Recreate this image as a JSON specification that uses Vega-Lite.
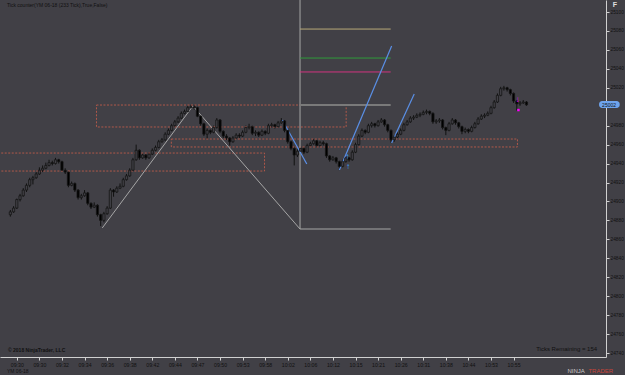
{
  "$schema": "https://vega.github.io/schema/vega-lite/v6.json",
  "width": 606,
  "height": 357,
  "autosize": {"type": "none"},
  "padding": {"left": 0, "top": 0, "right": 19, "bottom": 18},
  "background": "#414046",
  "config": {
    "view": {"stroke": null},
    "axis": {"labelOverlap": false, "labelFlush": false, "labelFont": "Liberation Sans", "grid": false, "domainColor": "#d0d0d0", "tickColor": "#d0d0d0", "tickSize": 3, "labelColor": "#111111", "title": null},
    "axisX": {"labelFontSize": 5.2, "labelPadding": 2},
    "axisY": {"labelFontSize": 4.8, "labelPadding": 1}
  },
  "datasets": {
    "bars": [
      {"i":0,"o":24886,"h":24891,"l":24884,"c":24889},{"i":1,"o":24889,"h":24895,"l":24888,"c":24893},{"i":2,"o":24893,"h":24903,"l":24892,"c":24902},{"i":3,"o":24902,"h":24908,"l":24900,"c":24906},{"i":4,"o":24906,"h":24914,"l":24905,"c":24912},{"i":5,"o":24912,"h":24919,"l":24910,"c":24917},{"i":6,"o":24917,"h":24925,"l":24915,"c":24923},{"i":7,"o":24923,"h":24927,"l":24918,"c":24925},{"i":8,"o":24925,"h":24931,"l":24924,"c":24929},{"i":9,"o":24929,"h":24936,"l":24928,"c":24933},
      {"i":10,"o":24933,"h":24938,"l":24931,"c":24935},{"i":11,"o":24935,"h":24941,"l":24934,"c":24938},{"i":12,"o":24938,"h":24944,"l":24937,"c":24941},{"i":13,"o":24941,"h":24943,"l":24938,"c":24940},{"i":14,"o":24940,"h":24946,"l":24939,"c":24944},{"i":15,"o":24944,"h":24945,"l":24940,"c":24942},{"i":16,"o":24942,"h":24943,"l":24932,"c":24933},{"i":17,"o":24933,"h":24935,"l":24929,"c":24931},{"i":18,"o":24931,"h":24932,"l":24915,"c":24917},{"i":19,"o":24917,"h":24921,"l":24916,"c":24919},
      {"i":20,"o":24919,"h":24920,"l":24910,"c":24912},{"i":21,"o":24912,"h":24913,"l":24902,"c":24904},{"i":22,"o":24904,"h":24908,"l":24902,"c":24906},{"i":23,"o":24906,"h":24912,"l":24905,"c":24909},{"i":24,"o":24909,"h":24910,"l":24896,"c":24898},{"i":25,"o":24898,"h":24899,"l":24892,"c":24894},{"i":26,"o":24894,"h":24899,"l":24893,"c":24896},{"i":27,"o":24896,"h":24897,"l":24884,"c":24886},{"i":28,"o":24886,"h":24887,"l":24874,"c":24880},{"i":29,"o":24880,"h":24889,"l":24878,"c":24887},
      {"i":30,"o":24887,"h":24895,"l":24886,"c":24893},{"i":31,"o":24893,"h":24914,"l":24892,"c":24912},{"i":32,"o":24912,"h":24913,"l":24905,"c":24910},{"i":33,"o":24910,"h":24916,"l":24909,"c":24914},{"i":34,"o":24914,"h":24919,"l":24913,"c":24916},{"i":35,"o":24916,"h":24925,"l":24915,"c":24923},{"i":36,"o":24923,"h":24929,"l":24922,"c":24927},{"i":37,"o":24927,"h":24935,"l":24926,"c":24933},{"i":38,"o":24933,"h":24946,"l":24932,"c":24944},{"i":39,"o":24944,"h":24960,"l":24943,"c":24954},
      {"i":40,"o":24954,"h":24955,"l":24944,"c":24946},{"i":41,"o":24946,"h":24951,"l":24945,"c":24949},{"i":42,"o":24949,"h":24950,"l":24944,"c":24946},{"i":43,"o":24946,"h":24952,"l":24945,"c":24950},{"i":44,"o":24950,"h":24956,"l":24949,"c":24954},{"i":45,"o":24954,"h":24959,"l":24953,"c":24957},{"i":46,"o":24957,"h":24965,"l":24956,"c":24963},{"i":47,"o":24963,"h":24967,"l":24962,"c":24965},{"i":48,"o":24965,"h":24973,"l":24964,"c":24971},{"i":49,"o":24971,"h":24977,"l":24970,"c":24975},
      {"i":50,"o":24975,"h":24982,"l":24974,"c":24980},{"i":51,"o":24980,"h":24986,"l":24979,"c":24984},{"i":52,"o":24984,"h":24990,"l":24983,"c":24988},{"i":53,"o":24988,"h":24995,"l":24987,"c":24993},{"i":54,"o":24993,"h":24997,"l":24992,"c":24995},{"i":55,"o":24995,"h":25001,"l":24994,"c":24999},{"i":56,"o":24999,"h":25002,"l":24998,"c":25000},{"i":57,"o":25000,"h":25002,"l":24997,"c":24999},{"i":58,"o":24999,"h":25000,"l":24989,"c":24990},{"i":59,"o":24990,"h":24991,"l":24980,"c":24982},
      {"i":60,"o":24982,"h":24983,"l":24969,"c":24971},{"i":61,"o":24971,"h":24977,"l":24966,"c":24975},{"i":62,"o":24975,"h":24976,"l":24971,"c":24973},{"i":63,"o":24973,"h":24980,"l":24972,"c":24978},{"i":64,"o":24978,"h":24988,"l":24977,"c":24986},{"i":65,"o":24986,"h":24987,"l":24972,"c":24974},{"i":66,"o":24974,"h":24975,"l":24967,"c":24969},{"i":67,"o":24969,"h":24971,"l":24965,"c":24967},{"i":68,"o":24967,"h":24968,"l":24959,"c":24963},{"i":69,"o":24963,"h":24969,"l":24962,"c":24967},
      {"i":70,"o":24967,"h":24972,"l":24966,"c":24970},{"i":71,"o":24970,"h":24972,"l":24967,"c":24969},{"i":72,"o":24969,"h":24975,"l":24968,"c":24973},{"i":73,"o":24973,"h":24980,"l":24972,"c":24978},{"i":74,"o":24978,"h":24982,"l":24976,"c":24979},{"i":75,"o":24979,"h":24980,"l":24970,"c":24972},{"i":76,"o":24972,"h":24975,"l":24969,"c":24973},{"i":77,"o":24973,"h":24974,"l":24968,"c":24970},{"i":78,"o":24970,"h":24976,"l":24969,"c":24974},{"i":79,"o":24974,"h":24975,"l":24970,"c":24972},
      {"i":80,"o":24972,"h":24982,"l":24971,"c":24980},{"i":81,"o":24980,"h":24983,"l":24978,"c":24981},{"i":82,"o":24981,"h":24982,"l":24977,"c":24979},{"i":83,"o":24979,"h":24985,"l":24978,"c":24983},{"i":84,"o":24983,"h":24988,"l":24982,"c":24985},{"i":85,"o":24985,"h":24986,"l":24973,"c":24975},{"i":86,"o":24975,"h":24976,"l":24961,"c":24963},{"i":87,"o":24963,"h":24964,"l":24954,"c":24956},{"i":88,"o":24956,"h":24957,"l":24938,"c":24949},{"i":89,"o":24949,"h":24955,"l":24947,"c":24953},
      {"i":90,"o":24953,"h":24958,"l":24952,"c":24956},{"i":91,"o":24956,"h":24957,"l":24950,"c":24952},{"i":92,"o":24952,"h":24961,"l":24951,"c":24959},{"i":93,"o":24959,"h":24963,"l":24958,"c":24961},{"i":94,"o":24961,"h":24966,"l":24960,"c":24964},{"i":95,"o":24964,"h":24965,"l":24957,"c":24959},{"i":96,"o":24959,"h":24964,"l":24958,"c":24962},{"i":97,"o":24962,"h":24964,"l":24959,"c":24961},{"i":98,"o":24961,"h":24962,"l":24946,"c":24948},{"i":99,"o":24948,"h":24949,"l":24942,"c":24944},
      {"i":100,"o":24944,"h":24948,"l":24943,"c":24946},{"i":101,"o":24946,"h":24947,"l":24940,"c":24942},{"i":102,"o":24942,"h":24943,"l":24933,"c":24937},{"i":103,"o":24937,"h":24944,"l":24936,"c":24942},{"i":104,"o":24942,"h":24948,"l":24941,"c":24946},{"i":105,"o":24946,"h":24947,"l":24942,"c":24944},{"i":106,"o":24944,"h":24954,"l":24943,"c":24952},{"i":107,"o":24952,"h":24962,"l":24951,"c":24960},{"i":108,"o":24960,"h":24971,"l":24959,"c":24969},{"i":109,"o":24969,"h":24977,"l":24968,"c":24975},
      {"i":110,"o":24975,"h":24976,"l":24971,"c":24973},{"i":111,"o":24973,"h":24982,"l":24972,"c":24980},{"i":112,"o":24980,"h":24984,"l":24978,"c":24982},{"i":113,"o":24982,"h":24983,"l":24978,"c":24980},{"i":114,"o":24980,"h":24986,"l":24979,"c":24984},{"i":115,"o":24984,"h":24988,"l":24983,"c":24986},{"i":116,"o":24986,"h":24987,"l":24979,"c":24981},{"i":117,"o":24981,"h":24982,"l":24973,"c":24975},{"i":118,"o":24975,"h":24976,"l":24962,"c":24965},{"i":119,"o":24965,"h":24970,"l":24963,"c":24968},
      {"i":120,"o":24968,"h":24973,"l":24967,"c":24971},{"i":121,"o":24971,"h":24977,"l":24970,"c":24975},{"i":122,"o":24975,"h":24983,"l":24974,"c":24981},{"i":123,"o":24981,"h":24986,"l":24980,"c":24984},{"i":124,"o":24984,"h":24990,"l":24983,"c":24988},{"i":125,"o":24988,"h":24991,"l":24986,"c":24989},{"i":126,"o":24989,"h":24993,"l":24988,"c":24991},{"i":127,"o":24991,"h":24994,"l":24989,"c":24992},{"i":128,"o":24992,"h":24996,"l":24991,"c":24994},{"i":129,"o":24994,"h":24997,"l":24992,"c":24995},
      {"i":130,"o":24995,"h":24996,"l":24991,"c":24993},{"i":131,"o":24993,"h":24994,"l":24982,"c":24984},{"i":132,"o":24984,"h":24987,"l":24982,"c":24985},{"i":133,"o":24985,"h":24988,"l":24983,"c":24986},{"i":134,"o":24986,"h":24987,"l":24976,"c":24978},{"i":135,"o":24978,"h":24979,"l":24970,"c":24975},{"i":136,"o":24975,"h":24984,"l":24974,"c":24982},{"i":137,"o":24982,"h":24988,"l":24981,"c":24986},{"i":138,"o":24986,"h":24987,"l":24981,"c":24983},{"i":139,"o":24983,"h":24984,"l":24977,"c":24979},
      {"i":140,"o":24979,"h":24980,"l":24971,"c":24974},{"i":141,"o":24974,"h":24978,"l":24972,"c":24976},{"i":142,"o":24976,"h":24977,"l":24972,"c":24974},{"i":143,"o":24974,"h":24980,"l":24973,"c":24978},{"i":144,"o":24978,"h":24984,"l":24977,"c":24982},{"i":145,"o":24982,"h":24989,"l":24981,"c":24987},{"i":146,"o":24987,"h":24992,"l":24986,"c":24990},{"i":147,"o":24990,"h":24993,"l":24988,"c":24991},{"i":148,"o":24991,"h":24995,"l":24990,"c":24993},{"i":149,"o":24993,"h":25001,"l":24992,"c":24999},
      {"i":150,"o":24999,"h":25007,"l":24998,"c":25005},{"i":151,"o":25005,"h":25014,"l":25004,"c":25012},{"i":152,"o":25012,"h":25021,"l":25011,"c":25019},{"i":153,"o":25019,"h":25022,"l":25017,"c":25020},{"i":154,"o":25020,"h":25021,"l":25016,"c":25018},{"i":155,"o":25018,"h":25019,"l":25012,"c":25014},{"i":156,"o":25014,"h":25015,"l":25004,"c":25006},{"i":157,"o":25006,"h":25007,"l":24996,"c":25003},{"i":158,"o":25003,"h":25006,"l":25001,"c":25004},{"i":159,"o":25004,"h":25007,"l":25003,"c":25005},
      {"i":160,"o":25005,"h":25006,"l":25001,"c":25002}
    ],
    "notesLeft": [
      {"a":-1.05,"p":25106.9,"t":"Tick counter(YM 06-18 (233 Tick),True,False)"},
      {"a":-1.05,"p":24721.0,"t":"YM 06-18"}
    ],
    "notesBold": [
      {"a":-0.74,"p":24743.2,"t":"© 2018 NinjaTrader, LLC"}
    ],
    "notesRight": [
      {"a":181.9,"p":24744.2,"t":"Ticks Remaining = 154"}
    ],
    "price": [
      {"a":182.5,"b":188.9,"p":25006.0,"q":24998.6,"m":185.6,"v":25002.3,"t":"25002"}
    ]
  },
  "layer": [
    {
      "data": {"name": "bars"},
      "mark": {"type":"rule","color":"#111111","strokeWidth":1},
      "encoding": {
        "x": {"field":"i","type":"quantitative","title":null,
          "scale": {"domain":[-1.659,183.1],"nice":false,"zero":false},
          "axis": {"tickCount":100,"values":[2,9,16,23,30,37,44,51,58,65,72,79,86,93,100,107,114,121,128,135,142,149,156],
            "labelExpr":"['09:30','09:30','09:32','09:34','09:36','09:38','09:42','09:44','09:47','09:50','09:53','09:58','10:02','10:06','10:12','10:15','10:21','10:26','10:31','10:38','10:44','10:53','10:55'][round((datum.value-2)/7)]"}},
        "y": {"field":"l","type":"quantitative","title":null,
          "scale": {"domain":[24735.78,25112.67],"nice":false,"zero":false},
          "axis": {"orient":"right","tickCount":100,"values":[24740,24760,24780,24800,24820,24840,24860,24880,24900,24920,24940,24960,24980,25020,25040,25060,25080,25100],"format":"d"}},
        "y2": {"field":"h"}
      }
    },
    {
      "data": {"values": [
        {"a":26.7,"b":104.1,"p":25001.8,"q":24978.6},
        {"a":-5,"b":78.8,"p":24951.1,"q":24932.1},
        {"a":49.9,"b":157.2,"p":24965.9,"q":24957.5}
      ]},
      "mark": {"type":"rect","fill":"transparent","stroke":"#b0584a","strokeWidth":1,"strokeDash":[2,1.5],"clip":true},
      "encoding": {
        "x": {"field":"a","type":"quantitative","title":null},
        "x2": {"field":"b"},
        "y": {"field":"p","type":"quantitative","title":null},
        "y2": {"field":"q"}
      }
    },
    {
      "data": {"values": [
        {"a":89.8,"p":25120,"b":89.8,"q":24870.9},
        {"a":89.8,"p":24870.9,"b":117.9,"q":24870.9},
        {"a":28.5,"p":24872,"b":56.6,"q":25000.8},
        {"a":56.6,"p":25000.8,"b":89.8,"q":24870.9}
      ]},
      "mark": {"type":"rule","color":"#a6a6a6","strokeWidth":1,"clip":true},
      "encoding": {
        "x": {"field":"a","type":"quantitative","title":null},
        "x2": {"field":"b"},
        "y": {"field":"p","type":"quantitative","title":null},
        "y2": {"field":"q"}
      }
    },
    {
      "data": {"values": [{"a":89.8,"p":25001.8,"b":117.9,"q":25001.8}]},
      "mark": {"type":"rule","color":"#7a7a7a","strokeWidth":2},
      "encoding": {
        "x": {"field":"a","type":"quantitative","title":null},
        "x2": {"field":"b"},
        "y": {"field":"p","type":"quantitative","title":null},
        "y2": {"field":"q"}
      }
    },
    {
      "data": {"values": [{"a":89.8,"p":25082.0,"b":117.9,"q":25082.0}]},
      "mark": {"type":"rule","color":"#b8a878","strokeWidth":1},
      "encoding": {
        "x": {"field":"a","type":"quantitative","title":null},
        "x2": {"field":"b"},
        "y": {"field":"p","type":"quantitative","title":null},
        "y2": {"field":"q"}
      }
    },
    {
      "data": {"values": [{"a":89.8,"p":25051.4,"b":117.9,"q":25051.4}]},
      "mark": {"type":"rule","color":"#2f9a3a","strokeWidth":1},
      "encoding": {
        "x": {"field":"a","type":"quantitative","title":null},
        "x2": {"field":"b"},
        "y": {"field":"p","type":"quantitative","title":null},
        "y2": {"field":"q"}
      }
    },
    {
      "data": {"values": [{"a":89.8,"p":25036.7,"b":117.9,"q":25036.7}]},
      "mark": {"type":"rule","color":"#d2337f","strokeWidth":1},
      "encoding": {
        "x": {"field":"a","type":"quantitative","title":null},
        "x2": {"field":"b"},
        "y": {"field":"p","type":"quantitative","title":null},
        "y2": {"field":"q"}
      }
    },
    {
      "data": {"values": [
        {"a":84.3,"p":24986.0,"b":91.9,"q":24939.5},
        {"a":102.0,"p":24933.2,"b":118.2,"q":25064.1},
        {"a":118.2,"p":24961.7,"b":125.2,"q":25013.4}
      ]},
      "mark": {"type":"rule","color":"#5a8fe6","strokeWidth":1.2},
      "encoding": {
        "x": {"field":"a","type":"quantitative","title":null},
        "x2": {"field":"b"},
        "y": {"field":"p","type":"quantitative","title":null},
        "y2": {"field":"q"}
      }
    },
    {
      "data": {"name": "bars"},
      "mark": {"type":"bar","width":2.2,"stroke":"#161616","strokeWidth":0.8},
      "encoding": {
        "x": {"field":"i","type":"quantitative","title":null},
        "y": {"field":"o","type":"quantitative","title":null},
        "y2": {"field":"c"},
        "fill": {"condition": {"test":"datum.c < datum.o","value":"#000000"},"value":"#414046"}
      }
    },
    {
      "data": {"values": [{"a":104.7,"p":24936.4,"t":"↑"},{"a":104.4,"p":24946.9,"t":"↑"}]},
      "mark": {"type":"text","color":"#3aa0ff","fontSize":8,"fontWeight":"bold"},
      "encoding": {
        "x": {"field":"a","type":"quantitative","title":null},
        "y": {"field":"p","type":"quantitative","title":null},
        "text": {"field":"t"}
      }
    },
    {
      "data": {"values": [{"a":157.2,"p":25007.1,"t":"↓"}]},
      "mark": {"type":"text","color":"#ff00ff","fontSize":8,"fontWeight":"bold"},
      "encoding": {
        "x": {"field":"a","type":"quantitative","title":null},
        "y": {"field":"p","type":"quantitative","title":null},
        "text": {"field":"t"}
      }
    },
    {
      "data": {"values": [{"a":157.5,"p":24996.5}]},
      "mark": {"type":"point","shape":"square","filled":true,"color":"#ff00ff","size":6,"opacity":1},
      "encoding": {
        "x": {"field":"a","type":"quantitative","title":null},
        "y": {"field":"p","type":"quantitative","title":null}
      }
    },
    {
      "data": {"name": "notesLeft"},
      "mark": {"type":"text","align":"left","baseline":"middle","fontSize":5,"color":"#111111"},
      "encoding": {
        "x": {"field":"a","type":"quantitative","title":null},
        "y": {"field":"p","type":"quantitative","title":null},
        "text": {"field":"t"}
      }
    },
    {
      "data": {"name": "notesBold"},
      "mark": {"type":"text","align":"left","baseline":"middle","fontSize":5,"fontWeight":"bold","color":"#111111"},
      "encoding": {
        "x": {"field":"a","type":"quantitative","title":null},
        "y": {"field":"p","type":"quantitative","title":null},
        "text": {"field":"t"}
      }
    },
    {
      "data": {"name": "notesRight"},
      "mark": {"type":"text","align":"right","baseline":"middle","fontSize":6,"color":"#111111"},
      "encoding": {
        "x": {"field":"a","type":"quantitative","title":null},
        "y": {"field":"p","type":"quantitative","title":null},
        "text": {"field":"t"}
      }
    },
    {
      "data": {"values": [{"a":187.4,"p":25107.4,"t":"F"}]},
      "mark": {"type":"text","align":"center","baseline":"middle","fontSize":7,"fontWeight":"bold","color":"#e0e0e0"},
      "encoding": {
        "x": {"field":"a","type":"quantitative","title":null},
        "y": {"field":"p","type":"quantitative","title":null},
        "text": {"field":"t"}
      }
    },
    {
      "data": {"values": [{"a":172.7,"p":24721.0,"t":"NINJA"}]},
      "mark": {"type":"text","align":"left","baseline":"middle","fontSize":6,"color":"#c8c8c8"},
      "encoding": {
        "x": {"field":"a","type":"quantitative","title":null},
        "y": {"field":"p","type":"quantitative","title":null},
        "text": {"field":"t"}
      }
    },
    {
      "data": {"values": [{"a":179.2,"p":24721.0,"t":"TRADER"}]},
      "mark": {"type":"text","align":"left","baseline":"middle","fontSize":6,"color":"#c8453a"},
      "encoding": {
        "x": {"field":"a","type":"quantitative","title":null},
        "y": {"field":"p","type":"quantitative","title":null},
        "text": {"field":"t"}
      }
    },
    {
      "data": {"name": "price"},
      "mark": {"type":"rect","fill":"#6ea4ee","cornerRadius":3},
      "encoding": {
        "x": {"field":"a","type":"quantitative","title":null},
        "x2": {"field":"b"},
        "y": {"field":"p","type":"quantitative","title":null},
        "y2": {"field":"q"}
      }
    },
    {
      "data": {"name": "price"},
      "mark": {"type":"text","align":"center","baseline":"middle","fontSize":5,"font":"Liberation Sans","color":"#111111"},
      "encoding": {
        "x": {"field":"m","type":"quantitative","title":null},
        "y": {"field":"v","type":"quantitative","title":null},
        "text": {"field":"t"}
      }
    }
  ]
}
